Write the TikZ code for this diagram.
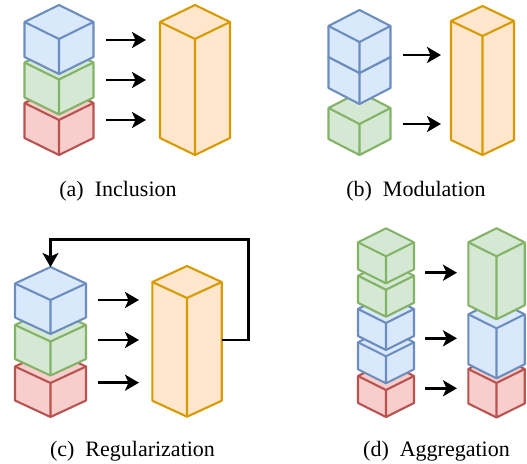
\documentclass[tikz,border=0pt]{standalone}
\usepackage{fontspec}
\setmainfont{Liberation Serif}
\usetikzlibrary{arrows.meta}
\definecolor{bluefill}{HTML}{DAE8FC}\definecolor{bluedraw}{HTML}{6C8EBF}
\definecolor{greenfill}{HTML}{D5E8D4}\definecolor{greendraw}{HTML}{82B366}
\definecolor{redfill}{HTML}{F8CECC}\definecolor{reddraw}{HTML}{B85450}
\definecolor{orangefill}{HTML}{FFE6CC}\definecolor{orangedraw}{HTML}{D79B00}
% #1 style, #2 cx, #3 bottom y, #4 half width, #5 front height, #6 slope, #7 name
\newcommand\isocube[7]{%
  \filldraw[#1] (#2,#3) -- (#2-#4,#3-#6) -- (#2-#4,#3-#6-#5) -- (#2,#3-2*#6-#5)
     -- (#2+#4,#3-#6-#5) -- (#2+#4,#3-#6) -- cycle;
  \draw[#1,fill=none] (#2-#4,#3-#6-#5) -- (#2,#3-#5) -- (#2+#4,#3-#6-#5) (#2,#3-#5) -- (#2,#3);
  \coordinate (#7-top) at (#2,#3-2*#6-#5);
  \coordinate (#7-east) at (#2+#4,#3-#6-#5/2);
}
\tikzset{
  cubeline/.style={line width=2.1pt, line join=round},
  bluecube/.style={cubeline, fill=bluefill, draw=bluedraw},
  greencube/.style={cubeline, fill=greenfill, draw=greendraw},
  redcube/.style={cubeline, fill=redfill, draw=reddraw},
  orangecube/.style={cubeline, fill=orangefill, draw=orangedraw},
  arr/.style={line width=2.8pt, -{Stealth[length=14pt, width=16pt, inset=3.5pt]}},
  caption/.style={anchor=base, font=\fontsize{22}{26}\selectfont, inner sep=0pt},
}
\begin{document}
\begin{tikzpicture}[x=1pt, y=-1pt]
\useasboundingbox (0,0) rectangle (527,463);
% ---------- (a) Inclusion
\isocube{redcube}{59}{155}{34.5}{35}{17}{aR}
\isocube{greencube}{59}{114.5}{34.5}{35}{17}{aG}
\isocube{bluecube}{59}{74}{34.5}{35}{17}{aB}
\isocube{orangecube}{195}{155}{35}{116}{17}{aO}
\foreach \y [count=\i] in {40,80,120} {
  \coordinate (aS\i) at (106,\y); \coordinate (aE\i) at (146,\y);
  \draw[arr] (aS\i) -- (aE\i);
}
\node[caption] (capa) at (118,196) {(a)\hspace{0.5em}Inclusion};
% ---------- (b) Modulation
\isocube{greencube}{359.5}{155}{31}{31}{16}{bG}
\isocube{bluecube}{359.5}{104}{31}{31}{16}{bB2}
\isocube{bluecube}{359.5}{73}{31}{31}{16}{bB1}
\isocube{orangecube}{482.5}{155}{31.5}{119}{15}{bO}
\foreach \y [count=\i] in {55,124} {
  \coordinate (bS\i) at (403,\y); \coordinate (bE\i) at (441,\y);
  \draw[arr] (bS\i) -- (bE\i);
}
\node[caption] (capb) at (416,196) {(b)\hspace{0.5em}Modulation};
% ---------- (c) Regularization
\isocube{redcube}{50.5}{417}{35.5}{34}{16.5}{cR}
\isocube{greencube}{50.5}{375.5}{35.5}{34}{16.5}{cG}
\isocube{bluecube}{50.5}{334}{35.5}{34}{16.5}{cB}
\isocube{orangecube}{187}{416.7}{34.7}{118.7}{16}{cO}
\foreach \y [count=\i] in {300,340,382.7} {
  \coordinate (cS\i) at (98,\y); \coordinate (cE\i) at (139,\y);
  \draw[arr] (cS\i) -- (cE\i);
}
\coordinate (cF) at (221.7,340);
\coordinate (cK1) at (248.3,340);
\coordinate (cK2) at (248.3,239.3);
\draw[arr, line width=2.4pt, line join=miter] (cF) -- (cK1) -- (cK2) -- (cK2 -| cB-top) -- (cB-top);
\node[caption] (capc) at (132.5,456) {(c)\hspace{0.5em}Regularization};
% ---------- (d) Aggregation
\isocube{redcube}{386}{417}{28}{27}{14}{dR}
\isocube{bluecube}{386}{383.3}{28}{27}{14}{dB2}
\isocube{bluecube}{386}{350}{28}{27}{14}{dB1}
\isocube{greencube}{386}{316.7}{28}{27}{14}{dG2}
\isocube{greencube}{386}{283.3}{28}{27}{14}{dG1}
\isocube{redcube}{496.5}{417.5}{28.2}{34.5}{14}{dRR}
\isocube{bluecube}{496.5}{378.3}{28.2}{50}{14}{dBB}
\isocube{greencube}{496.5}{319.3}{28.2}{63}{14}{dGG}
\foreach \y [count=\i] in {272.7,338.3,388.3} {
  \coordinate (dS\i) at (425,\y); \coordinate (dE\i) at (457,\y);
  \draw[arr] (dS\i) -- (dE\i);
}
\node[caption] (capd) at (436.5,456) {(d)\hspace{0.5em}Aggregation};
\end{tikzpicture}
\end{document}
